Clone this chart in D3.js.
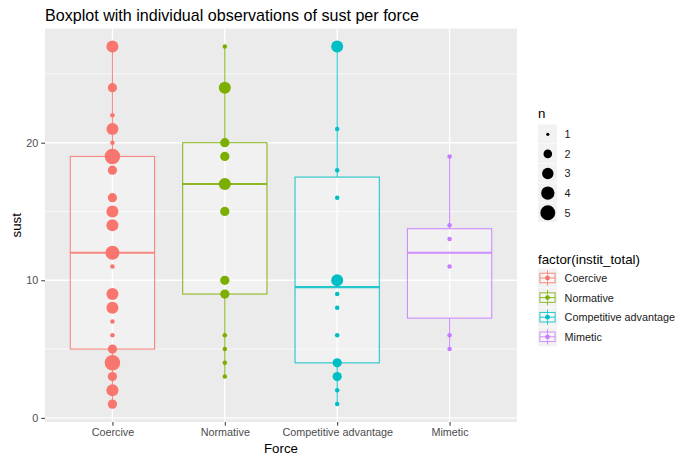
<!DOCTYPE html>
<head>
  <meta charset="utf-8">
  <script type="text/javascript" src="https://cdn.jsdelivr.net/npm/d3@7"></script>
  <style>
    body { margin: 0; background: #fff; }
    text { font-family: "Liberation Sans", Arial, sans-serif; }
  </style>
</head>
<body>
  <script>

  var categories = ["Coercive", "Normative", "Competitive advantage", "Mimetic"]
  var colors = ["#F8766D", "#7CAE00", "#00BFC4", "#C77CFF"]

  // distinct sust values per force and how many observations sit on each
  var coerciveValues = [27, 24, 22, 21, 20, 19, 18, 16, 15, 14, 12, 11, 9, 8, 7, 6, 5, 4, 3, 2, 1]
  var coerciveCounts = [3, 2, 1, 3, 1, 5, 2, 2, 3, 3, 4, 1, 3, 3, 1, 1, 2, 5, 2, 3, 2]
  var normativeValues = [27, 24, 20, 19, 17, 15, 10, 9, 6, 5, 4, 3]
  var normativeCounts = [1, 3, 2, 2, 3, 2, 2, 2, 1, 1, 1, 1]
  var competitiveValues = [27, 21, 18, 16, 10, 9, 8, 6, 4, 3, 2, 1]
  var competitiveCounts = [3, 1, 1, 1, 3, 1, 1, 1, 2, 2, 1, 1]
  var mimeticValues = [19, 14, 13, 11, 6, 5]
  var mimeticCounts = [1, 1, 1, 1, 1, 1]

  var yTicks = [0, 10, 20]
  var yMinor = [5, 15, 25]
  var sizeLegend = [1, 2, 3, 4, 5]

  var groups = [
    {values: coerciveValues, counts: coerciveCounts},
    {values: normativeValues, counts: normativeCounts},
    {values: competitiveValues, counts: competitiveCounts},
    {values: mimeticValues, counts: mimeticCounts}
  ]

  var panel = {left: 45, right: 517, top: 28.5, bottom: 422}

  var svg = d3.select("body")
              .append("svg")
              .attr("width", 675)
              .attr("height", 458)

  var x = d3.scalePoint()
            .domain(categories)
            .range([panel.left, panel.right])
            .padding(0.6)

  var y = d3.scaleLinear()
            .domain([-0.3, 28.3])
            .range([panel.bottom, panel.top])

  var radius = d3.scaleLog()
                 .domain([1, 5])
                 .range([2.25, 7.75])

  var boxWidth = x.step() * 0.75
  var tickFont = "10.8px"
  var titleFont = "13.3px"

  // panel and grid
  svg.append("rect")
     .attr("x", panel.left)
     .attr("y", panel.top)
     .attr("width", panel.right - panel.left)
     .attr("height", panel.bottom - panel.top)
     .attr("fill", "#EBEBEB")

  svg.selectAll(".minor")
     .data(yMinor)
     .enter()
     .append("line")
     .attr("x1", panel.left)
     .attr("x2", panel.right)
     .attr("y1", function(d) { return y(d) })
     .attr("y2", function(d) { return y(d) })
     .attr("stroke", "#fff")
     .attr("stroke-width", 0.7)

  svg.selectAll(".major")
     .data(yTicks)
     .enter()
     .append("line")
     .attr("x1", panel.left)
     .attr("x2", panel.right)
     .attr("y1", function(d) { return y(d) })
     .attr("y2", function(d) { return y(d) })
     .attr("stroke", "#fff")
     .attr("stroke-width", 1.4)

  svg.selectAll(".vmajor")
     .data(categories)
     .enter()
     .append("line")
     .attr("x1", function(d) { return x(d) })
     .attr("x2", function(d) { return x(d) })
     .attr("y1", panel.top)
     .attr("y2", panel.bottom)
     .attr("stroke", "#fff")
     .attr("stroke-width", 1.4)

  // boxes
  groups.forEach(function(g, i) {
    var obs = []
    g.values.forEach(function(v, j) {
      for (var k = 0; k < g.counts[j]; k++) obs.push(v)
    })
    obs.sort(d3.ascending)
    var q1 = d3.quantile(obs, 0.25)
    var med = d3.quantile(obs, 0.5)
    var q3 = d3.quantile(obs, 0.75)
    var iqr = q3 - q1
    var lo = d3.min(obs.filter(function(v) { return v >= q1 - 1.5 * iqr }))
    var hi = d3.max(obs.filter(function(v) { return v <= q3 + 1.5 * iqr }))

    var cx = x(categories[i])
    var box = svg.append("g")
                 .attr("stroke", colors[i])
                 .attr("stroke-opacity", 0.85)

    box.append("line")
       .attr("x1", cx).attr("x2", cx)
       .attr("y1", y(hi)).attr("y2", y(q3))
       .attr("stroke-width", 1.1)
    box.append("line")
       .attr("x1", cx).attr("x2", cx)
       .attr("y1", y(q1)).attr("y2", y(lo))
       .attr("stroke-width", 1.1)
    box.append("rect")
       .attr("x", cx - boxWidth / 2)
       .attr("y", y(q3))
       .attr("width", boxWidth)
       .attr("height", y(q1) - y(q3))
       .attr("fill", "#fff")
       .attr("fill-opacity", 0.3)
       .attr("stroke-width", 1.1)
    box.append("line")
       .attr("x1", cx - boxWidth / 2).attr("x2", cx + boxWidth / 2)
       .attr("y1", y(med)).attr("y2", y(med))
       .attr("stroke-width", 2.1)
  })

  // observations
  groups.forEach(function(g, i) {
    svg.append("g")
       .selectAll("circle")
       .data(g.values.map(function(v, j) { return {v: v, n: g.counts[j]} }))
       .enter()
       .append("circle")
       .attr("cx", x(categories[i]))
       .attr("cy", function(d) { return y(d.v) })
       .attr("r", function(d) { return radius(d.n) })
       .attr("fill", colors[i])
  })

  // axes
  var yAxis = svg.append("g")
                 .attr("transform", "translate(" + panel.left + ",0)")
                 .call(d3.axisLeft(y).tickValues(yTicks).tickSize(3.7).tickPadding(3))
  var xAxis = svg.append("g")
                 .attr("transform", "translate(0," + panel.bottom + ")")
                 .call(d3.axisBottom(x).tickSize(3.7).tickPadding(3))
  ;[yAxis, xAxis].forEach(function(a) {
    a.select(".domain").remove()
    a.selectAll("line").attr("stroke", "#333")
    a.selectAll("text")
     .attr("fill", "#4D4D4D")
     .style("font-size", tickFont)
     .style("font-family", "Liberation Sans, Arial, sans-serif")
  })

  svg.append("text")
     .attr("x", (panel.left + panel.right) / 2)
     .attr("y", 452.5)
     .attr("text-anchor", "middle")
     .style("font-size", titleFont)
     .text("Force")

  svg.append("text")
     .attr("transform", "translate(21," + ((panel.top + panel.bottom) / 2) + ") rotate(-90)")
     .attr("text-anchor", "middle")
     .style("font-size", titleFont)
     .text("sust")

  svg.append("text")
     .attr("x", 45)
     .attr("y", 20.5)
     .style("font-size", "16.1px")
     .text("Boxplot with individual observations of sust per force")

  // legend: n
  var keySize = 19.6
  var lx = 538

  svg.append("text")
     .attr("x", lx)
     .attr("y", 117.5)
     .style("font-size", titleFont)
     .text("n")

  var sizeKeys = svg.selectAll(".sizekey")
                    .data(sizeLegend)
                    .enter()
                    .append("g")
                    .attr("transform", function(d, i) { return "translate(" + lx + "," + (124.5 + i * keySize) + ")" })

  sizeKeys.append("rect")
          .attr("width", keySize - 0.6)
          .attr("height", keySize - 0.6)
          .attr("fill", "#F2F2F2")
  sizeKeys.append("circle")
          .attr("cx", keySize / 2)
          .attr("cy", keySize / 2)
          .attr("r", function(d) { return d === 1 ? 1.6 : radius(d) - 0.3 })
          .attr("fill", "#000")
  sizeKeys.append("text")
          .attr("x", keySize + 7)
          .attr("y", keySize / 2 + 4)
          .style("font-size", tickFont)
          .attr("fill", "#1a1a1a")
          .text(function(d) { return d })

  // legend: colour
  svg.append("text")
     .attr("x", lx)
     .attr("y", 264)
     .style("font-size", titleFont)
     .text("factor(instit_total)")

  var colorKeys = svg.selectAll(".colorkey")
                     .data(categories)
                     .enter()
                     .append("g")
                     .attr("transform", function(d, i) { return "translate(" + lx + "," + (268.5 + i * keySize) + ")" })

  colorKeys.append("rect")
           .attr("width", keySize - 0.6)
           .attr("height", keySize - 0.6)
           .attr("fill", "#F2F2F2")
  colorKeys.each(function(d, i) {
    var k = d3.select(this)
    var s = keySize - 0.6
    var c = colors[i]
    k.append("line")
     .attr("x1", s / 2).attr("x2", s / 2)
     .attr("y1", s * 0.1).attr("y2", s * 0.9)
     .attr("stroke", c).attr("stroke-opacity", 0.85)
    k.append("rect")
     .attr("x", s * 0.1).attr("y", s * 0.25)
     .attr("width", s * 0.8).attr("height", s * 0.5)
     .attr("fill", "#fff").attr("fill-opacity", 0.3)
     .attr("stroke", c).attr("stroke-opacity", 0.85)
    k.append("line")
     .attr("x1", s * 0.1).attr("x2", s * 0.9)
     .attr("y1", s / 2).attr("y2", s / 2)
     .attr("stroke", c).attr("stroke-opacity", 0.85)
    k.append("circle")
     .attr("cx", s / 2).attr("cy", s / 2)
     .attr("r", 2.4)
     .attr("fill", c)
  })
  colorKeys.append("text")
           .attr("x", keySize + 7)
           .attr("y", keySize / 2 + 4)
           .style("font-size", tickFont)
           .attr("fill", "#1a1a1a")
           .text(function(d) { return d })

  </script>
</body>
